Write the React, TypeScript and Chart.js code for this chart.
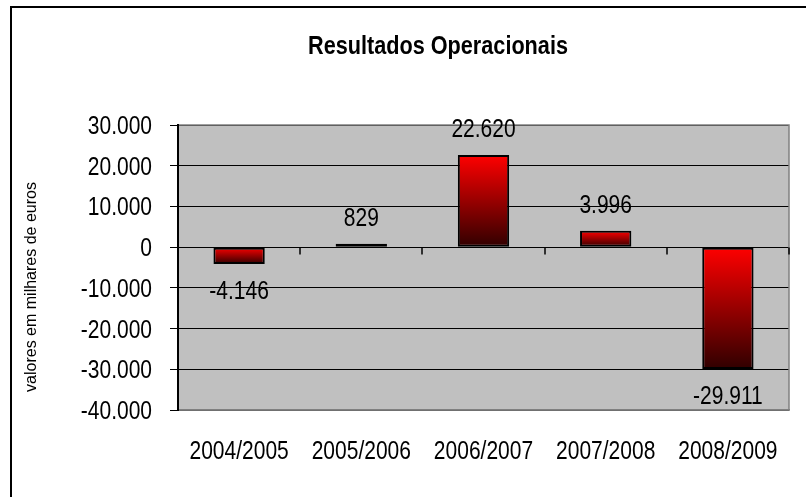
import React, { useEffect, useRef } from "react";
import { Chart, registerables } from "chart.js";

Chart.register(...registerables);

const categories = ["2004/2005", "2005/2006", "2006/2007", "2007/2008", "2008/2009"];
const values = [-4146, 829, 22620, 3996, -29911];
const yMin = -40000;
const yMax = 30000;
const yStep = 10000;
const titleText = "Resultados Operacionais";
const yTitleText = "valores em milhares de euros";

const SANS = '"Liberation Sans", Arial, sans-serif';
const NARROW_SCALE = 0.84;

const fmt = (v: number) => {
  const s = Math.abs(Math.round(v)).toString().replace(/\B(?=(\d{3})+(?!\d))/g, ".");
  return (v < 0 ? "-" : "") + s;
};

// draws horizontally condensed text (emulates a narrow face)
const narrowText = (
  ctx: CanvasRenderingContext2D,
  text: string,
  x: number,
  y: number,
  align: CanvasTextAlign,
  font: string,
  sx: number = NARROW_SCALE
) => {
  ctx.save();
  ctx.translate(x, y);
  ctx.scale(sx, 1);
  ctx.font = font;
  ctx.fillStyle = "#000000";
  ctx.textAlign = align;
  ctx.textBaseline = "alphabetic";
  ctx.fillText(text, 0, 0);
  ctx.restore();
};

const decor = {
  id: "decor",
  beforeDraw(chart: any) {
    const { ctx, chartArea: a } = chart;
    ctx.save();
    ctx.fillStyle = "#ffffff";
    ctx.fillRect(0, 0, chart.width, chart.height);
    // outer frame (top & left visible)
    ctx.strokeStyle = "#000000";
    ctx.lineWidth = 2;
    ctx.beginPath();
    ctx.moveTo(11, chart.height + 2);
    ctx.lineTo(11, 7);
    ctx.lineTo(chart.width + 2, 7);
    ctx.stroke();
    // plot background
    ctx.fillStyle = "#c0c0c0";
    ctx.fillRect(a.left, a.top, a.right - a.left, a.bottom - a.top);
    ctx.restore();
    // title
    narrowText(ctx, titleText, 438, 54, "center", `bold 25px ${SANS}`, 0.866);
    // y axis title
    ctx.save();
    ctx.translate(32, 287);
    ctx.rotate(-Math.PI / 2);
    ctx.fillStyle = "#000000";
    ctx.font = `16px ${SANS}`;
    ctx.textAlign = "center";
    ctx.textBaseline = "middle";
    ctx.fillText(yTitleText, 0, 0);
    ctx.restore();
  },
  beforeDatasetsDraw(chart: any) {
    const { ctx, chartArea: a, scales } = chart;
    ctx.save();
    ctx.strokeStyle = "#808080";
    ctx.lineWidth = 1.5;
    ctx.beginPath();
    ctx.moveTo(a.left + 1, a.top);
    ctx.lineTo(a.right, a.top);
    ctx.lineTo(a.right, a.bottom);
    ctx.lineTo(a.left + 1, a.bottom);
    ctx.stroke();
    // tick marks on the zero line at category boundaries
    const y0 = Math.round(scales.y.getPixelForValue(0)) + 0.5;
    ctx.strokeStyle = "#000000";
    ctx.lineWidth = 1.5;
    ctx.beginPath();
    for (let i = 0; i <= categories.length; i++) {
      const x = Math.round(scales.x.getPixelForValue(i - 0.5));
      ctx.moveTo(x, y0);
      ctx.lineTo(x, y0 + 7);
    }
    ctx.stroke();
    ctx.restore();
  },
  afterDatasetsDraw(chart: any) {
    const { ctx, scales } = chart;
    const font = `25px ${SANS}`;
    // data labels
    const meta = chart.getDatasetMeta(0);
    meta.data.forEach((bar: any, i: number) => {
      const v = values[i];
      const y = v >= 0 ? bar.y - 18 : bar.y + 35;
      narrowText(ctx, fmt(v), bar.x, y, "center", font);
    });
    // y tick labels
    const ys = scales.y;
    ys.ticks.forEach((t: any) => {
      const py = ys.getPixelForValue(t.value);
      narrowText(ctx, fmt(t.value), ys.right - 26, py + 9, "right", font);
    });
    // x tick labels
    const xs = scales.x;
    categories.forEach((c, i) => {
      narrowText(ctx, c, xs.getPixelForValue(i), xs.top + 49, "center", font);
    });
  },
};

export default function App() {
  const ref = useRef<HTMLCanvasElement | null>(null);
  useEffect(() => {
    if (!ref.current) return;
    const chart = new Chart(ref.current, {
      type: "bar",
      data: {
        labels: categories,
        datasets: [
          {
            data: values,
            backgroundColor: (c: any) => {
              const ch = c.chart;
              const ys = ch.scales && ch.scales.y;
              if (!ys || c.dataIndex === undefined) return "#c00000";
              const v = values[c.dataIndex];
              const p0 = ys.getPixelForValue(0);
              const p1 = ys.getPixelForValue(v);
              if (!isFinite(p0) || !isFinite(p1)) return "#c00000";
              const top = Math.min(p0, p1);
              const bot = Math.max(p0, p1) + 0.01;
              const g = ch.ctx.createLinearGradient(0, top, 0, bot);
              g.addColorStop(0, "#ff0000");
              g.addColorStop(1, "#300000");
              return g;
            },
            borderColor: "#000000",
            borderWidth: 2,
            borderSkipped: false,
            barPercentage: 1,
            categoryPercentage: 0.42,
          },
        ],
      },
      options: {
        responsive: false,
        animation: false,
        layout: { padding: { top: 125, right: 17, bottom: 27, left: 0 } },
        plugins: {
          legend: { display: false },
          title: { display: false },
          tooltip: { enabled: false },
        },
        scales: {
          x: {
            grid: { display: false, drawTicks: false },
            border: { color: "#808080", width: 1.5 },
            ticks: { display: false },
            afterFit: (s: any) => {
              s.height = 60;
            },
          },
          y: {
            min: yMin,
            max: yMax,
            ticks: {
              stepSize: yStep,
              display: false,
            },
            grid: {
              color: "#000000",
              lineWidth: 1,
              tickColor: "#000000",
              tickLength: 8,
              drawTicks: true,
            },
            border: { color: "#000000", width: 2 },
            afterFit: (s: any) => {
              s.width = 178;
            },
          },
        },
      },
      plugins: [decor],
    });
    return () => chart.destroy();
  }, []);
  return (
    <div style={{ position: "absolute", left: 0, top: 0, width: 806, height: 497 }}>
      <canvas ref={ref} width={806} height={497} />
    </div>
  );
}
